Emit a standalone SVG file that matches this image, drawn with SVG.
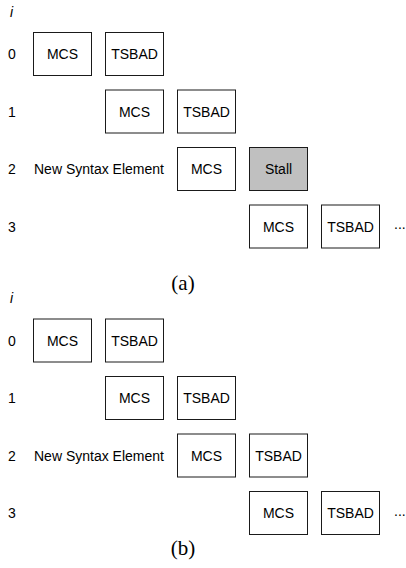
<svg xmlns="http://www.w3.org/2000/svg" width="406" height="568" viewBox="0 0 406 568">
<style>
.b{fill:#fff;stroke:#1a1a1a;stroke-width:1}
.s{fill:#c0c0c0;stroke:#1a1a1a;stroke-width:1}
.t{font-family:"Liberation Sans",Arial,sans-serif;font-size:14px;fill:#000}
.c{text-anchor:middle}
.i{font-style:italic}
.cap{font-family:"Liberation Serif","Times New Roman",serif;font-size:21px;fill:#000;text-anchor:middle}
</style>
<rect width="406" height="568" fill="#fff"/>
<g id="partA">
  <text class="t i" x="10" y="17">i</text>
  <text class="t" x="8" y="59">0</text>
  <text class="t" x="8" y="116.5">1</text>
  <text class="t" x="8" y="174">2</text>
  <text class="t" x="8" y="231.5">3</text>
  <text class="t" x="34" y="174">New Syntax Element</text>
  <g id="a0mcs"><rect class="b" x="33.5" y="32.5" width="58" height="43"/><text class="t c" x="62.5" y="59">MCS</text></g>
  <g id="a0tsbad"><rect class="b" x="105.5" y="32.5" width="58" height="43"/><text class="t c" x="134.5" y="59">TSBAD</text></g>
  <g id="a1mcs"><rect class="b" x="105.5" y="90" width="58" height="43"/><text class="t c" x="134.5" y="116.5">MCS</text></g>
  <g id="a1tsbad"><rect class="b" x="177.5" y="90" width="58" height="43"/><text class="t c" x="206.5" y="116.5">TSBAD</text></g>
  <g id="a2mcs"><rect class="b" x="177.5" y="147.5" width="58" height="43"/><text class="t c" x="206.5" y="174">MCS</text></g>
  <g id="a2stall"><rect class="s" x="249.5" y="147.5" width="58" height="43"/><text class="t c" x="278.5" y="174">Stall</text></g>
  <g id="a3mcs"><rect class="b" x="249.5" y="205" width="58" height="43"/><text class="t c" x="278.5" y="231.5">MCS</text></g>
  <g id="a3tsbad"><rect class="b" x="321.5" y="205" width="58" height="43"/><text class="t c" x="350.5" y="231.5">TSBAD</text></g>
  <text class="t" x="394" y="229">...</text>
  <text class="cap" x="183" y="289.5">(a)</text>
</g>
<g id="partB">
  <text class="t i" x="10" y="303">i</text>
  <text class="t" x="8" y="345.5">0</text>
  <text class="t" x="8" y="403">1</text>
  <text class="t" x="8" y="460.5">2</text>
  <text class="t" x="8" y="518">3</text>
  <text class="t" x="34" y="460.5">New Syntax Element</text>
  <g id="b0mcs"><rect class="b" x="33.5" y="319" width="58" height="43"/><text class="t c" x="62.5" y="345.5">MCS</text></g>
  <g id="b0tsbad"><rect class="b" x="105.5" y="319" width="58" height="43"/><text class="t c" x="134.5" y="345.5">TSBAD</text></g>
  <g id="b1mcs"><rect class="b" x="105.5" y="376.5" width="58" height="43"/><text class="t c" x="134.5" y="403">MCS</text></g>
  <g id="b1tsbad"><rect class="b" x="177.5" y="376.5" width="58" height="43"/><text class="t c" x="206.5" y="403">TSBAD</text></g>
  <g id="b2mcs"><rect class="b" x="177.5" y="434" width="58" height="43"/><text class="t c" x="206.5" y="460.5">MCS</text></g>
  <g id="b2tsbad"><rect class="b" x="249.5" y="434" width="58" height="43"/><text class="t c" x="278.5" y="460.5">TSBAD</text></g>
  <g id="b3mcs"><rect class="b" x="249.5" y="491.5" width="58" height="43"/><text class="t c" x="278.5" y="518">MCS</text></g>
  <g id="b3tsbad"><rect class="b" x="321.5" y="491.5" width="58" height="43"/><text class="t c" x="350.5" y="518">TSBAD</text></g>
  <text class="t" x="394" y="515.5">...</text>
  <text class="cap" x="183" y="555">(b)</text>
</g>
<g id="connectors"></g>
</svg>
